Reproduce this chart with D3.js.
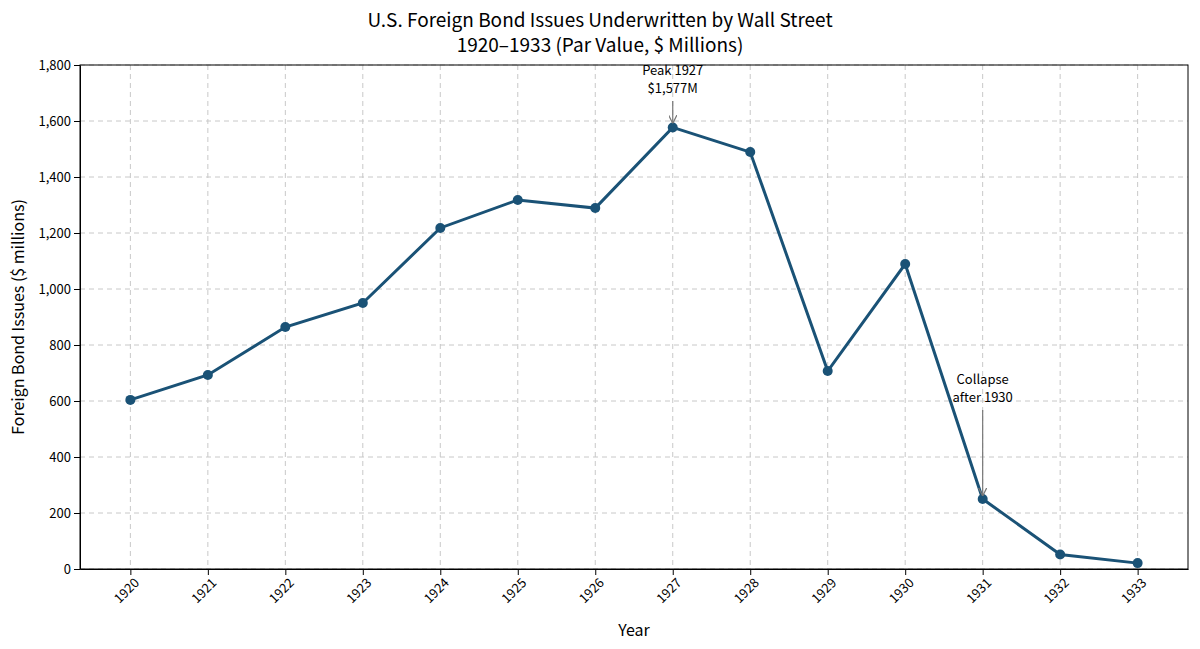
<!DOCTYPE html>
<html>
<head>
<meta charset="utf-8">
<style>
  body { margin: 0; background: #fff; }
  text { font-family: "Noto Sans CJK JP", "Noto Sans", sans-serif; fill: #000; }
  .grid line { stroke: #c8c8c8; stroke-dasharray: 5,4; stroke-width: 1; }
  .axis text { font-size: 13px; }
</style>
</head>
<body>
<script src="https://d3js.org/d3.v7.min.js"></script>
<script>
var years = [1920,1921,1922,1923,1924,1925,1926,1927,1928,1929,1930,1931,1932,1933];
var issues = [604,693,864,950,1218,1318,1289,1577,1489,707,1089,250,52,21];
var yTicks = [0,200,400,600,800,1000,1200,1400,1600,1800];

var W = 1200, H = 649,
    margin = {top: 65, right: 12, bottom: 80, left: 80},
    width = W - margin.left - margin.right,
    height = H - margin.top - margin.bottom;

var svg = d3.select("body").append("svg").attr("width", W).attr("height", H);
var g = svg.append("g").attr("transform", "translate(" + margin.left + "," + margin.top + ")");

var x = d3.scaleLinear().domain([1919.35, 1933.65]).range([0, width]);
var y = d3.scaleLinear().domain([0, 1800]).range([height, 0]);

// grid
g.append("g").attr("class", "grid").selectAll("line").data(years).enter().append("line")
  .attr("x1", d => x(d)).attr("x2", d => x(d)).attr("y1", 0).attr("y2", height);
g.append("g").attr("class", "grid").selectAll("line").data(yTicks).enter().append("line")
  .attr("x1", 0).attr("x2", width).attr("y1", d => y(d)).attr("y2", d => y(d));

// axes
g.append("g").attr("class", "axis").attr("transform", "translate(0," + height + ")")
  .call(d3.axisBottom(x).tickValues(years).tickFormat(d3.format("d")).tickSizeOuter(0))
  .selectAll("text").attr("transform", "rotate(-45)").style("text-anchor", "end")
  .attr("dx", "-0.3em").attr("dy", "0.6em");
g.append("g").attr("class", "axis")
  .call(d3.axisLeft(y).tickValues(yTicks).tickSizeOuter(0));

g.append("rect").attr("width", width).attr("height", height)
  .attr("fill", "none").attr("stroke", "#000").attr("stroke-width", 1);

// line + points
var data = years.map((d, i) => ({year: d, v: issues[i]}));
g.append("path").datum(data)
  .attr("fill", "none").attr("stroke", "#1a5276").attr("stroke-width", 3)
  .attr("d", d3.line().x(d => x(d.year)).y(d => y(d.v)));
g.selectAll(".pt").data(data).enter().append("circle")
  .attr("cx", d => x(d.year)).attr("cy", d => y(d.v)).attr("r", 5).attr("fill", "#1a5276");

// annotations
svg.append("defs").append("marker").attr("id", "arr").attr("viewBox", "0 0 10 10")
  .attr("refX", 10).attr("refY", 5).attr("markerWidth", 7).attr("markerHeight", 7).attr("orient", "auto")
  .append("path").attr("d", "M0,0 L10,5 L0,10").attr("fill", "none").attr("stroke", "#777").attr("stroke-width", 1.5);

function annotate(year, val, lines, ty, endGap) {
  var t = g.append("text").attr("x", x(year)).attr("y", ty).attr("text-anchor", "middle").style("font-size", "13px");
  lines.forEach((l, i) => t.append("tspan").attr("x", x(year)).attr("dy", i ? 18 : 0).text(l));
  g.append("line").attr("x1", x(year)).attr("x2", x(year))
    .attr("y1", ty + (lines.length - 1) * 18 + 8).attr("y2", y(val) - endGap)
    .attr("stroke", "#777").attr("stroke-width", 1.2).attr("marker-end", "url(#arr)");
}
annotate(1927, 1577, ["Peak 1927", "$1,577M"], 10, 4);
annotate(1931, 250, ["Collapse", "after 1930"], 319, 3);

// titles
svg.append("text").attr("x", 600).attr("y", 27).attr("text-anchor", "middle").style("font-size", "19px")
  .text("U.S. Foreign Bond Issues Underwritten by Wall Street");
svg.append("text").attr("x", 600).attr("y", 52).attr("text-anchor", "middle").style("font-size", "19px")
  .text("1920–1933 (Par Value, $ Millions)");
svg.append("text").attr("x", margin.left + width / 2).attr("y", 636).attr("text-anchor", "middle")
  .style("font-size", "16px").text("Year");
svg.append("text").attr("transform", "translate(24," + (margin.top + height / 2) + ") rotate(-90)")
  .attr("text-anchor", "middle").style("font-size", "16px").text("Foreign Bond Issues ($ millions)");
</script>
</body>
</html>
